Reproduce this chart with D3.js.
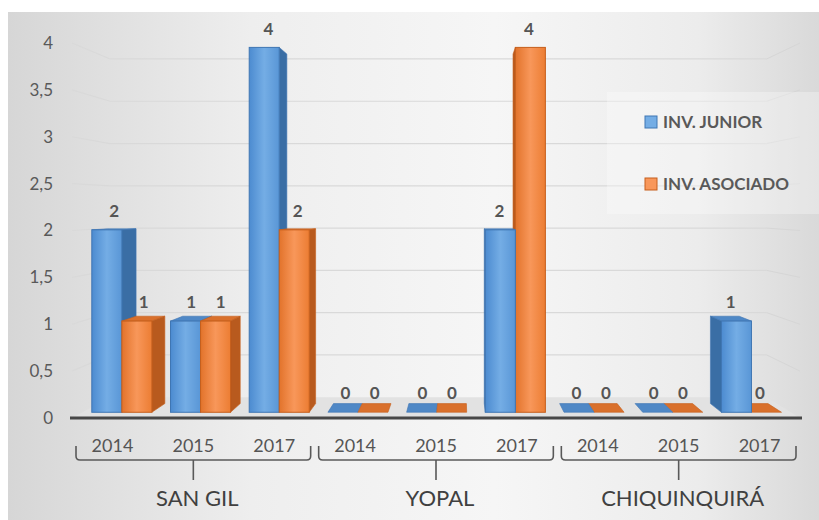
<!DOCTYPE html>
<html>
<head>
<meta charset="utf-8">
<script src="https://cdn.jsdelivr.net/npm/d3@7"></script>
<style>
  html, body { margin: 0; padding: 0; background: #fff; overflow: hidden; }
  text { font-family: Lato, "Open Sans", sans-serif; }
</style>
</head>
<body>
<div id="chart"></div>
<script>
// --- data ---
const cities = ['SAN GIL', 'YOPAL', 'CHIQUINQUIRÁ'];
const years = ['2014', '2015', '2017'];
const seriesNames = ['INV. JUNIOR', 'INV. ASOCIADO'];
const invJunior   = [2, 1, 4, 0, 0, 2, 0, 0, 1];
const invAsociado = [1, 1, 2, 0, 0, 4, 0, 0, 0];
const yTicks = [0, 0.5, 1, 1.5, 2, 2.5, 3, 3.5, 4];
const yTickLabels = ['0', '0,5', '1', '1,5', '2', '2,5', '3', '3,5', '4'];

const W = 819, H = 520;
// fake 3D: everything is projected towards a vanishing point
const VX = 460, VY = 206;
const D_FRONT = 0.027, D_BACK = 0.068, D_WALL = 0.098;
const P = (x, y, d) => [x + d * (VX - x), y + d * (VY - y)];

const keys = [];
cities.forEach(c => years.forEach(yr => keys.push(c + '|' + yr)));

const colors = {
  'INV. JUNIOR':   { side: '#3a6ea5', top: '#4f88c6', stroke: '#3f76b3', g: ['#4c8bd0', '#74ade5', '#5996d6'] },
  'INV. ASOCIADO': { side: '#b85a1e', top: '#d9702c', stroke: '#c65f1c', g: ['#e2732b', '#f8975a', '#ec7d33'] }
};

const svg = d3.select('#chart').append('svg')
  .attr('width', W).attr('height', H);

const defs = svg.append('defs');
const bg = defs.append('linearGradient').attr('id', 'bg').attr('x1', 0).attr('x2', 1).attr('y1', 0).attr('y2', 0);
[[0, '#d6d6d6'], [0.3, '#eeeeee'], [0.6, '#f6f6f6'], [0.85, '#ececec'], [1, '#d9d9d9']]
  .forEach(([o, c]) => bg.append('stop').attr('offset', o).attr('stop-color', c));

seriesNames.forEach((s, i) => {
  const lg = defs.append('linearGradient').attr('id', 'front' + i).attr('x1', 0).attr('x2', 1).attr('y1', 0).attr('y2', 0);
  colors[s].g.forEach((c, j) => lg.append('stop').attr('offset', j / 2).attr('stop-color', c));
});

svg.append('rect')
  .attr('x', 8).attr('y', 12).attr('width', W - 8).attr('height', H - 12)
  .attr('fill', 'url(#bg)');

// scales
const x = d3.scaleBand().domain(keys).range([72, 800]).paddingInner(0.237).paddingOuter(0.1185);
const xs = d3.scaleBand().domain(seriesNames).range([0, x.bandwidth()]);
const y = d3.scaleLinear().domain([0, 4]).range([418, 43]);

const X0 = 72, X1 = 800;

// floor
const floorPts = [[X0, y(0)], [X1, y(0)], P(X1, y(0), D_WALL), P(X0, y(0), D_WALL)];
svg.append('polygon')
  .attr('points', floorPts.map(p => p.join(',')).join(' '))
  .attr('fill', '#e2e2e2');

// gridlines (left wall, back wall, right wall)
const grid = svg.append('g').attr('fill', 'none');
yTicks.filter(v => v > 0).forEach(v => {
  const a = [X0, y(v)], b = P(X0, y(v), D_WALL), c = P(X1, y(v), D_WALL), d = [X1, y(v)];
  grid.append('path')
    .attr('d', `M${a}L${b}L${c}`)
    .attr('stroke', '#d9d9d9').attr('stroke-width', 1.2);
  grid.append('path')
    .attr('d', `M${c}L${d}`)
    .attr('stroke', '#d6d6d6').attr('stroke-width', 1);
});

// y axis labels
const yAxis = svg.append('g')
  .attr('transform', 'translate(53,0)')
  .call(d3.axisLeft(y).tickValues(yTicks).tickSize(0).tickPadding(0)
    .tickFormat((d, i) => yTickLabels[i]));
yAxis.select('.domain').remove();
yAxis.selectAll('text')
  .attr('fill', '#595959').attr('font-size', 17)
  .style('font-family', 'Lato, sans-serif');

// bars
const bars = [];
keys.forEach((k, i) => {
  [invJunior[i], invAsociado[i]].forEach((v, si) => {
    const s = seriesNames[si];
    const x0 = x(k) + xs(s);
    bars.push({ key: k, s, si, v, x0, x1: x0 + xs.bandwidth() });
  });
});
bars.sort((a, b) => Math.abs((b.x0 + b.x1) / 2 - VX) - Math.abs((a.x0 + a.x1) / 2 - VX));

const pts = arr => arr.map(p => p.join(',')).join(' ');
const barG = svg.append('g');
bars.forEach(b => {
  const g = barG.append('g');
  const c = colors[b.s];
  const yT = y(b.v), yB = y(0);
  const cx = (b.x0 + b.x1) / 2;
  // top face
  if (yT > VY) {
    g.append('polygon')
      .attr('points', pts([P(b.x0, yT, D_FRONT), P(b.x1, yT, D_FRONT), P(b.x1, yT, D_BACK), P(b.x0, yT, D_BACK)]))
      .attr('fill', c.top).attr('stroke', c.stroke).attr('stroke-width', 0.6);
  }
  // side face
  if (b.v > 0) {
    const sx = cx < VX ? b.x1 : b.x0;
    g.append('polygon')
      .attr('points', pts([P(sx, yT, D_FRONT), P(sx, yT, D_BACK), P(sx, yB, D_BACK), P(sx, yB, D_FRONT)]))
      .attr('fill', c.side).attr('stroke', c.stroke).attr('stroke-width', 0.6);
    // front face
    const [fx0, fy0] = P(b.x0, yT, D_FRONT);
    const [fx1, fy1] = P(b.x1, yB, D_FRONT);
    g.append('rect')
      .attr('x', fx0).attr('y', fy0)
      .attr('width', fx1 - fx0).attr('height', fy1 - fy0)
      .attr('fill', `url(#front${b.si})`)
      .attr('stroke', c.stroke).attr('stroke-width', 1);
  }
});

// value labels
svg.append('g').selectAll('text')
  .data(bars)
  .join('text')
  .attr('x', b => {
    const cx = (b.x0 + b.x1) / 2;
    return (P(cx, y(b.v), D_FRONT)[0] + P(cx, y(b.v), D_BACK)[0]) / 2;
  })
  .attr('y', b => P(b.x0, y(b.v), D_FRONT)[1] - 19)
  .attr('dy', '0.36em')
  .attr('text-anchor', 'middle')
  .attr('font-size', 17).attr('font-weight', 700)
  .attr('fill', '#555555')
  .text(b => b.v);

// x axis line
svg.append('line')
  .attr('x1', X0 - 2).attr('x2', X1 + 2)
  .attr('y1', y(0)).attr('y2', y(0))
  .attr('stroke', '#474747').attr('stroke-width', 3);

// year labels
const xAxis = svg.append('g')
  .attr('transform', 'translate(0,439)')
  .call(d3.axisBottom(x).tickSize(0).tickPadding(0).tickFormat(k => k.split('|')[1]));
xAxis.select('.domain').remove();
xAxis.selectAll('text')
  .attr('fill', '#555555').attr('font-size', 18)
  .style('font-family', 'Lato, sans-serif');

// city brackets and labels
const gap = (x.step() - x.bandwidth()) / 2;
cities.forEach((c, ci) => {
  const first = keys[ci * 3], last = keys[ci * 3 + 2];
  const gx0 = x(first) - gap + 4, gx1 = x(last) + x.bandwidth() + gap - 4;
  const mid = (gx0 + gx1) / 2;
  svg.append('path')
    .attr('d', `M${gx0},446 L${gx0},456 Q${gx0},460 ${gx0 + 4},460 L${gx1 - 4},460 Q${gx1},460 ${gx1},456 L${gx1},446 M${mid},460 L${mid},480`)
    .attr('fill', 'none').attr('stroke', '#595959').attr('stroke-width', 1.6);
  svg.append('text')
    .attr('x', mid + 4).attr('y', 506)
    .attr('text-anchor', 'middle')
    .attr('font-size', 22).attr('fill', '#404040')
    .text(c);
});

// legend
svg.append('rect')
  .attr('x', 607).attr('y', 92).attr('width', 212).attr('height', 122)
  .attr('fill', '#ffffff').attr('opacity', 0.3);
const leg = svg.append('g').selectAll('g')
  .data(seriesNames)
  .join('g')
  .attr('transform', (d, i) => `translate(645,${116 + i * 62})`);
leg.append('rect')
  .attr('width', 12).attr('height', 12)
  .attr('fill', d => colors[d].g[1])
  .attr('stroke', d => colors[d].stroke).attr('stroke-width', 1);
leg.append('text')
  .attr('x', 18).attr('y', 6).attr('dy', '0.36em')
  .attr('font-size', 17).attr('font-weight', 700)
  .attr('fill', '#595959')
  .text(d => d);
</script>
</body>
</html>
